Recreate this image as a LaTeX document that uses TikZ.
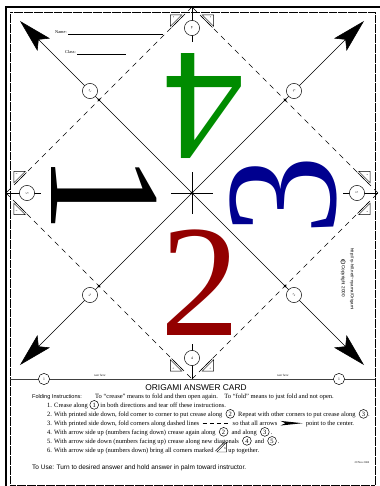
\documentclass[tikz,border=0pt]{standalone}
\usepackage{fontspec}
\setmainfont{Liberation Serif}
\setsansfont{Liberation Sans}
\usepackage{tikz}
\usetikzlibrary{arrows.meta,positioning,calc}
\definecolor{CardGreen}{HTML}{008C00}
\definecolor{CardBlue}{HTML}{00008F}
\definecolor{CardRed}{HTML}{930000}
\newcommand{\cnum}[1]{\tikz[baseline=(cn.base)]\node[draw,circle,line width=0.8pt,inner sep=0pt,minimum size=5mm] (cn) {#1};}
\newcommand{\dashmark}{\tikz[baseline=-0.6ex]\draw[line width=1.1pt,dash pattern=on 2.3mm off 1.7mm] (0,0) -- (15mm,0);}
\newcommand{\arrowmark}{\tikz[baseline=-0.6ex]\fill (0,1.3mm) -- (12.5mm,0) -- (0,-1.3mm) -- (2.8mm,0) -- cycle;}
\newcommand{\cornermark}{\tikz[baseline=0pt]{\draw[line width=0.6pt] (0,0) -- (5.5mm,0) -- (5.5mm,5.5mm) -- cycle;
  \draw[line width=0.6pt] (-0.9mm,0.5mm) -- (4.3mm,5.7mm);
  \node[font=\fontsize{5}{5}\selectfont, inner sep=0pt] (cm) at (4.1mm,1.4mm) {6};}}

\begin{document}
\begin{tikzpicture}[
  x=0.5682mm,
  y=0.5682mm,
  font=\fontsize{10.5}{12}\selectfont,
  numcirc/.style={draw, fill=white, circle, line width=0.8pt, inner sep=0pt, minimum size=8.6mm, font=\fontsize{6}{7}\selectfont},
  tearcirc/.style={numcirc, minimum size=6.4mm},
  foldline/.style={line width=0.9pt, dash pattern=on 3mm off 2.6mm},
  creaseline/.style={line width=0.9pt},
  cornertri/.style={line width=0.7pt},
  bignum/.style={inner sep=0pt, font=\fontsize{258}{258}\selectfont}
]
\useasboundingbox (-192,-293) rectangle (188,193);
\draw[line width=2.5pt] (-186,-293) -- (-186,186) -- (188,186);
\draw[line width=0.8pt, densely dotted] (-182,-292) rectangle (183,181);

\coordinate (ctr) at (0,0);
\node[bignum, text=CardGreen, rotate=180] (four) at (13,87) {4};
\node[bignum, rotate=-90] (one) at (-88,0) {1};
\node[bignum, text=CardBlue, rotate=90] (three) at (91,-3) {3};
\node[bignum, text=CardRed] (two) at (8,-90) {2};

\foreach \ang/\dn/\mn in {0/2/4, 90/3/5, 180/2/4, 270/3/5}{
  \begin{scope}[rotate=\ang, transform shape]
    \coordinate (mid\ang) at (0,-186);
    \coordinate (side\ang) at (186,0);
    \coordinate (tip\ang) at (172,-172);
    \draw[foldline] (mid\ang) -- (side\ang);
    \draw[creaseline, -{Stealth[length=19mm, width=10mm, inset=4mm]}] (ctr) -- (tip\ang);
    \fill (93,-93) circle (1.5);
    \node[numcirc, rotate=45] (diag\ang) at (102,-102) {\dn};
    \draw[creaseline] (0,-151) -- (0,-186);
    \node[numcirc] (edge\ang) at (0,-165) {\mn};
    \draw[cornertri] (-10.2,-178.2) -- (-21.7,-166.7) -- (-21.7,-178.2) -- cycle;
    \draw[cornertri] (-9,-177) -- (-20.5,-165.5);
    \node[font=\fontsize{3.5}{4}\selectfont, inner sep=0pt] (sixL\ang) at (-18.5,-175.5) {6};
    \draw[cornertri] (10.2,-178.2) -- (21.7,-166.7) -- (21.7,-178.2) -- cycle;
    \draw[cornertri] (9,-177) -- (20.5,-165.5);
    \node[font=\fontsize{3.5}{4}\selectfont, inner sep=0pt] (sixR\ang) at (18.5,-175.5) {6};
  \end{scope}
}
\draw[creaseline] (-21,0) -- (21,0) (0,-21) -- (0,21);
\fill (ctr) circle (1.6);

\node[font=\fontsize{7}{8}\selectfont, anchor=base west] (name) at (-139,159) {Name: \rule{54mm}{0.4pt}};
\node[font=\fontsize{7}{8}\selectfont, anchor=base west] (class) at (-129,139) {Class: \rule{28mm}{0.4pt}};

\node[font=\sffamily\fontsize{7}{8}\selectfont, rotate=-90] (url) at (160,-86) {http://ry-hill.net/\textasciitilde nyama/Origami};
\node[font=\sffamily\fontsize{7.5}{9}\selectfont, rotate=-90] (copy) at (151,-85) {\tikz[baseline=(cc.base)]\node[draw,circle,line width=0.6pt,inner sep=0.6pt] (cc) {c};\ Copyright 2000};

\draw[line width=1.2pt, black!75] (-182,-186) -- (183,-186);
\node[tearcirc] (tearL) at (-148,-186) {1};
\node[tearcirc] (tearR) at (147,-186) {1};
\node[font=\fontsize{5}{6}\selectfont\itshape, anchor=base] (tearLtxt) at (-92,-183) {tear here};
\node[font=\fontsize{5}{6}\selectfont\itshape, anchor=base] (tearRtxt) at (91,-183) {tear here};

\node[font=\sffamily\fontsize{13.5}{15}\selectfont, anchor=base] (title) at (4,-197) {ORIGAMI ANSWER CARD};
\node[font=\sffamily\fontsize{9}{11}\selectfont, anchor=base west] (foldhead) at (-162,-205) {Folding Instructions:};
\node[anchor=base west] (foldnote) at (-99,-205) {To ``crease'' means to fold and then open again.\quad To ``fold'' means to just fold and not open.};
\node[anchor=base west] (step1) at (-147,-214) {1. Crease along \cnum{1} in both directions and tear off these instructions.};
\node[anchor=base west] (step2) at (-147,-223) {2. With printed side down, fold corner to corner to put crease along \ \cnum{2}\ \ Repeat with other corners to put crease along \ \cnum{3}.};
\node[anchor=base west] (step3) at (-147,-232) {3. With printed side down, fold corners along dashed lines \ \dashmark\ \ so that all arrows \ \arrowmark\ \ point to the center.};
\node[anchor=base west] (step4) at (-147,-241) {4. With arrow side up (numbers facing down)\ crease again along \ \cnum{2}\ \ and along \ \cnum{3}\,.};
\node[anchor=base west] (step5) at (-147,-250) {5. With arrow side down (numbers facing up) crease along new diagonals \ \cnum{4}\ \ and \ \cnum{5}\,.};
\node[anchor=base west] (step6) at (-147,-259) {6. With arrow side up (numbers down)\ bring all corners marked \cornermark\ up together.};
\node[font=\sffamily\fontsize{10.5}{12}\selectfont, anchor=base west] (touse) at (-162,-276) {To Use: Turn to desired answer and hold answer in palm toward instructor.};
\node[font=\fontsize{4.5}{5}\selectfont, anchor=base] (date) at (170,-270) {29 Nov 2000};
\end{tikzpicture}
\end{document}
